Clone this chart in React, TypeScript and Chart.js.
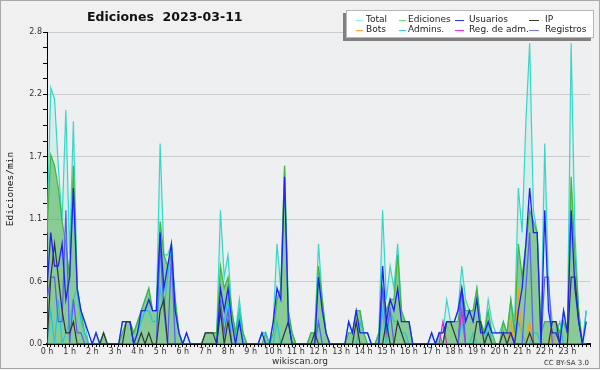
import React, { useEffect, useRef } from 'react';
import { Chart, registerables } from 'chart.js';

Chart.register(...registerables);

const TITLE = 'Ediciones  2023-03-11';
const Y_TITLE = 'Ediciones/min';
const FOOTER = 'wikiscan.org';
const LICENSE = 'CC BY-SA 3.0';

const HOUR_LABELS = ['0 h','1 h','2 h','3 h','4 h','5 h','6 h','7 h','8 h','9 h','10 h','11 h','12 h','13 h','14 h','15 h','16 h','17 h','18 h','19 h','20 h','21 h','22 h','23 h'];
const Y_LABELS = ['0.0','0.6','1.1','1.7','2.2','2.8'];
const Y_MAX = 2.8;
const SLOTS_PER_HOUR = 6; // 10-minute slots

// edits per 10-minute slot (value / 10 = edits per minute)
const TOTAL = [
  10,23,22,16,11,21,8,20,5,3,2,0,
  0,1,0,1,0,0,0,0,2,2,2,1,
  2,3,4,5,3,3,18,8,8,9,4,1,
  0,1,0,0,0,0,1,1,1,1,12,6,
  8,3,1,4,1,0,0,0,0,1,1,0,
  2,9,5,16,3,1,0,0,0,0,1,1,
  9,4,1,0,0,0,0,0,2,1,3,3,
  1,1,0,0,1,12,4,7,5,9,3,2,
  2,0,0,0,0,0,1,0,1,1,4,2,
  2,3,7,4,3,3,5,2,1,4,2,1,
  1,2,1,4,2,14,10,20,27,12,10,1,
  18,5,2,2,1,3,1,27,10,3,0,3,
];
const EDICIONES = [
  10,17,16,14,11,9,6,16,5,3,1,0,
  0,0,0,1,0,0,0,0,1,2,2,1,
  2,3,4,5,3,3,11,8,7,8,4,1,
  0,0,0,0,0,0,1,1,1,1,7,5,
  6,3,1,3,1,0,0,0,0,0,1,0,
  1,4,5,16,3,1,0,0,0,0,1,1,
  7,4,1,0,0,0,0,0,1,1,3,3,
  1,0,0,0,1,5,3,4,4,8,3,2,
  2,0,0,0,0,0,0,0,1,0,2,2,
  2,2,5,3,3,3,5,2,1,3,1,0,
  0,2,1,4,1,9,6,9,12,11,10,1,
  2,2,2,2,1,2,1,15,8,3,0,0,
];
const USUARIOS = [
  5,10,7,7,9,4,6,14,5,3,2,1,
  0,1,0,0,0,0,0,0,2,2,2,0,
  1,3,3,4,3,3,10,5,7,9,3,1,
  0,1,0,0,0,0,0,0,0,0,5,3,
  5,2,0,2,0,0,0,0,0,1,0,0,
  2,5,4,15,2,0,0,0,0,0,0,0,
  6,3,1,0,0,0,0,0,2,1,3,1,
  1,1,0,0,0,7,2,4,3,5,2,2,
  2,0,0,0,0,0,1,0,1,1,2,2,
  2,3,5,2,3,2,4,1,1,2,1,1,
  1,1,1,1,0,3,5,9,14,10,10,0,
  12,3,1,1,0,3,1,12,5,2,0,2,
];
const IP = [
  0,6,9,6,3,1,1,2,0,0,0,0,
  0,0,0,1,0,0,0,0,0,2,2,0,
  0,1,0,1,0,0,3,4,0,0,0,0,
  0,0,0,0,0,0,1,1,1,0,3,0,
  2,0,0,0,0,0,0,0,0,0,0,0,
  0,0,0,1,2,0,0,0,0,0,0,1,
  0,0,0,0,0,0,0,0,0,0,2,0,
  0,0,0,0,0,0,2,0,0,2,1,0,
  0,0,0,0,0,0,0,0,0,0,2,2,
  1,0,0,0,0,0,2,2,0,1,0,0,
  0,1,0,1,0,0,0,0,1,0,0,0,
  0,0,2,2,0,0,0,6,6,2,0,0,
];
const BOTS = [
  0,0,0,0,0,0,0,0,0,0,0,0,
  0,0,0,0,0,0,0,0,0,0,0,0,
  0,0,0,0,0,0,0,0,0,0,0,0,
  0,0,0,0,0,0,0,0,0,0,0,0,
  0,0,0,0,0,0,0,0,0,0,0,0,
  0,0,0,0,0,0,0,0,0,0,0,0,
  0,0,0,0,0,0,0,0,0,0,0,0,
  0,0,0,0,0,0,0,0,0,0,0,0,
  0,0,0,0,0,0,0,0,0,0,0,0,
  0,0,0,0,0,0,0,0,0,0,0,0,
  0,0,0,2,0,5,0,0,2,0,0,0,
  0,0,1,0,0,0,0,0,0,0,0,0,
];
const ADMINS = [
  0,3,0,4,0,1,2,4,5,2,1,0,
  0,0,0,0,0,0,0,0,0,0,0,0,
  1,2,3,3,2,2,5,3,6,9,3,1,
  0,0,0,0,0,0,0,0,0,0,3,2,
  4,0,0,3,0,0,0,0,0,1,1,0,
  0,2,0,1,2,0,0,0,0,0,0,0,
  2,0,0,0,0,0,0,0,0,0,0,2,
  1,1,0,0,0,3,0,3,2,2,1,1,
  0,0,0,0,0,0,0,0,0,0,0,0,
  0,0,2,0,0,1,0,0,0,2,0,0,
  0,0,0,0,0,2,1,0,0,1,1,0,
  0,0,0,1,2,0,0,0,0,0,0,3,
];
const REG_ADM = [
  0,0,0,0,0,0,0,0,0,0,0,0,
  0,0,0,0,0,0,0,0,0,0,0,0,
  0,0,0,0,0,0,0,0,0,0,0,0,
  0,0,0,0,0,0,0,0,0,0,0,0,
  0,0,0,0,0,0,0,0,0,0,0,0,
  0,0,0,0,0,0,0,0,0,0,0,0,
  0,0,0,0,0,0,0,0,0,0,0,0,
  0,0,0,0,0,0,0,0,0,0,0,0,
  0,0,0,0,0,0,0,0,0,2,0,0,
  0,0,3,0,0,0,0,0,0,0,0,0,
  0,0,0,0,0,0,0,0,0,0,0,0,
  0,0,0,0,0,0,0,0,0,0,0,0,
];
const REGISTROS = [
  4,6,6,2,2,12,0,4,1,1,0,0,
  0,0,0,0,0,0,0,0,0,0,0,0,
  0,0,0,0,0,0,9,3,0,8,0,0,
  0,0,0,0,0,0,0,0,0,0,4,1,
  3,0,0,0,0,0,0,0,0,0,0,0,
  0,0,0,0,0,0,0,0,0,0,0,0,
  2,0,0,0,0,0,0,0,0,0,0,0,
  0,0,0,0,0,5,1,3,0,0,0,0,
  0,0,0,0,0,0,0,0,0,0,0,0,
  0,0,5,0,0,0,0,0,0,0,0,0,
  0,0,0,0,0,0,0,5,10,0,0,0,
  6,6,0,0,0,0,0,0,0,0,0,0,
];

const SERIES = [
  { label: 'Total', data: TOTAL, color: '#38d6c6', legend: '#9eeee6', width: 1.2, fill: 'rgba(64,224,208,0.13)', order: 9 },
  { label: 'Ediciones', data: EDICIONES, color: '#3cb83c', legend: '#77dd77', width: 1.2, fill: 'rgba(60,170,60,0.5)', order: 8 },
  { label: 'Usuarios', data: USUARIOS, color: '#1f1fff', legend: '#3333ff', width: 1.3, fill: null, order: 0 },
  { label: 'IP', data: IP, color: '#333333', legend: '#333333', width: 1.2, fill: null, order: 1 },
  { label: 'Bots', data: BOTS, color: '#ff9a1a', legend: '#ffaa33', width: 1.2, fill: null, order: 4 },
  { label: 'Admins.', data: ADMINS, color: '#1ec8dc', legend: '#33ccdd', width: 1.2, fill: null, order: 5 },
  { label: 'Reg. de adm.', data: REG_ADM, color: '#e020e0', legend: '#ee33ee', width: 1.2, fill: null, order: 3 },
  { label: 'Registros', data: REGISTROS, color: '#5a5aff', legend: '#7777ff', width: 1.2, fill: null, order: 2 },
];

const decorPlugin = {
  id: 'decor',
  beforeDraw(chart: any) {
    const { ctx, width, height, chartArea: a } = chart;
    ctx.save();
    ctx.fillStyle = '#f0f0f0';
    ctx.fillRect(0, 0, width, height);
    ctx.fillStyle = '#edeff1';
    ctx.fillRect(a.left, a.top, a.right - a.left, a.bottom - a.top);
    ctx.restore();
  },
  afterDraw(chart: any) {
    const { ctx } = chart;
    ctx.save();
    // outer border
    ctx.strokeStyle = '#a8a8a8';
    ctx.lineWidth = 1;
    ctx.strokeRect(0.5, 0.5, 599, 368);
    // title
    ctx.fillStyle = '#111';
    ctx.font = 'bold 12.5px "DejaVu Sans"';
    ctx.textAlign = 'left';
    ctx.textBaseline = 'alphabetic';
    ctx.fillText(TITLE, 87, 21);
    // y title
    ctx.save();
    ctx.translate(13, 189);
    ctx.rotate(-Math.PI / 2);
    ctx.font = '9.5px "DejaVu Sans Mono"';
    ctx.textAlign = 'center';
    ctx.fillText(Y_TITLE, 0, 0);
    ctx.restore();
    // footer
    ctx.fillStyle = '#333';
    ctx.font = '9px "DejaVu Sans"';
    ctx.textAlign = 'center';
    ctx.fillText(FOOTER, 300, 364);
    ctx.font = '7px "DejaVu Sans"';
    ctx.textAlign = 'right';
    ctx.fillText(LICENSE, 589, 365);
    // legend
    const bx = 346, by = 10, bw = 248, bh = 28;
    ctx.fillStyle = '#808080';
    ctx.fillRect(bx - 3, by + 3, bw, bh);
    ctx.fillStyle = '#ffffff';
    ctx.fillRect(bx, by, bw, bh);
    ctx.strokeStyle = '#b8b8b8';
    ctx.strokeRect(bx + 0.5, by + 0.5, bw - 1, bh - 1);
    const cols = [
      { lx: 356, lw: 7, tx: 366 },
      { lx: 399, lw: 7, tx: 408 },
      { lx: 455, lw: 9, tx: 469 },
      { lx: 529, lw: 10, tx: 545 },
    ];
    const rows = [19.5, 29.5];
    ctx.font = '9px "DejaVu Sans"';
    ctx.textAlign = 'left';
    ctx.textBaseline = 'middle';
    SERIES.forEach((s, k) => {
      const c = cols[k % 4];
      const y = rows[Math.floor(k / 4)];
      ctx.strokeStyle = s.legend;
      ctx.lineWidth = 1;
      ctx.beginPath();
      ctx.moveTo(c.lx, Math.round(y) + 0.5);
      ctx.lineTo(c.lx + c.lw, Math.round(y) + 0.5);
      ctx.stroke();
      ctx.fillStyle = '#222';
      ctx.fillText(s.label, c.tx, y);
    });
    ctx.restore();
  },
};

export default function App() {
  const ref = useRef<HTMLCanvasElement | null>(null);
  useEffect(() => {
    document.body.style.margin = '0';
    const canvas = ref.current;
    if (!canvas) return;
    const datasets = SERIES.map((s) => ({
      label: s.label,
      data: s.data.map((v, i) => ({ x: i, y: v / 10 })),
      borderColor: s.color,
      borderWidth: s.width,
      backgroundColor: s.fill || s.color,
      fill: s.fill ? 'origin' : false,
      pointRadius: 0,
      tension: 0,
      order: s.order,
    }));
    const chart = new Chart(canvas, {
      type: 'line',
      data: { datasets },
      plugins: [decorPlugin],
      options: {
        animation: false,
        responsive: false,
        maintainAspectRatio: false,
        events: [],
        layout: { padding: { left: 0, top: 32, right: 10, bottom: 0 } },
        plugins: { legend: { display: false }, tooltip: { enabled: false }, title: { display: false } },
        scales: {
          x: {
            type: 'linear',
            min: 0,
            max: HOUR_LABELS.length * SLOTS_PER_HOUR,
            afterBuildTicks: (scale: any) => {
              const t = [];
              for (let k = 0; k <= HOUR_LABELS.length * SLOTS_PER_HOUR; k++) t.push({ value: k });
              scale.ticks = t;
            },
            afterFit: (scale: any) => { scale.height = 26; },
            ticks: {
              autoSkip: false,
              maxRotation: 0,
              minRotation: 0,
              padding: 0,
              color: '#333',
              font: { family: 'DejaVu Sans', size: 8 },
              callback: (v: any) => {
                const n = Number(v);
                return n % SLOTS_PER_HOUR === 0 && n / SLOTS_PER_HOUR < HOUR_LABELS.length ? HOUR_LABELS[n / SLOTS_PER_HOUR] : '';
              },
            },
            grid: { drawOnChartArea: false, tickLength: 3, tickColor: '#000', tickWidth: 1 },
            border: { display: true, color: '#000', width: 2 },
          },
          y: {
            type: 'linear',
            min: 0,
            max: Y_MAX,
            afterBuildTicks: (scale: any) => {
              const n = (Y_LABELS.length - 1) * 4;
              const t = [];
              for (let k = 0; k <= n; k++) t.push({ value: (Y_MAX * k) / n });
              scale.ticks = t;
            },
            afterFit: (scale: any) => { scale.width = 47; },
            ticks: {
              autoSkip: false,
              padding: 1,
              color: '#333',
              font: { family: 'DejaVu Sans', size: 8 },
              callback: (_v: any, i: number) => (i % 4 === 0 ? Y_LABELS[i / 4] : ''),
            },
            grid: {
              color: (c: any) => (c.index % 4 === 0 && c.index > 0 ? '#cccccc' : 'rgba(0,0,0,0)'),
              tickColor: '#000',
              tickLength: 4,
              lineWidth: 1,
            },
            border: { display: true, color: '#000', width: 1 },
          },
        },
      } as any,
    });
    return () => chart.destroy();
  }, []);
  return (
    <div style={{ width: 600, height: 370 }}>
      <canvas ref={ref} width={600} height={370} style={{ display: 'block', width: 600, height: 370 }} />
    </div>
  );
}
